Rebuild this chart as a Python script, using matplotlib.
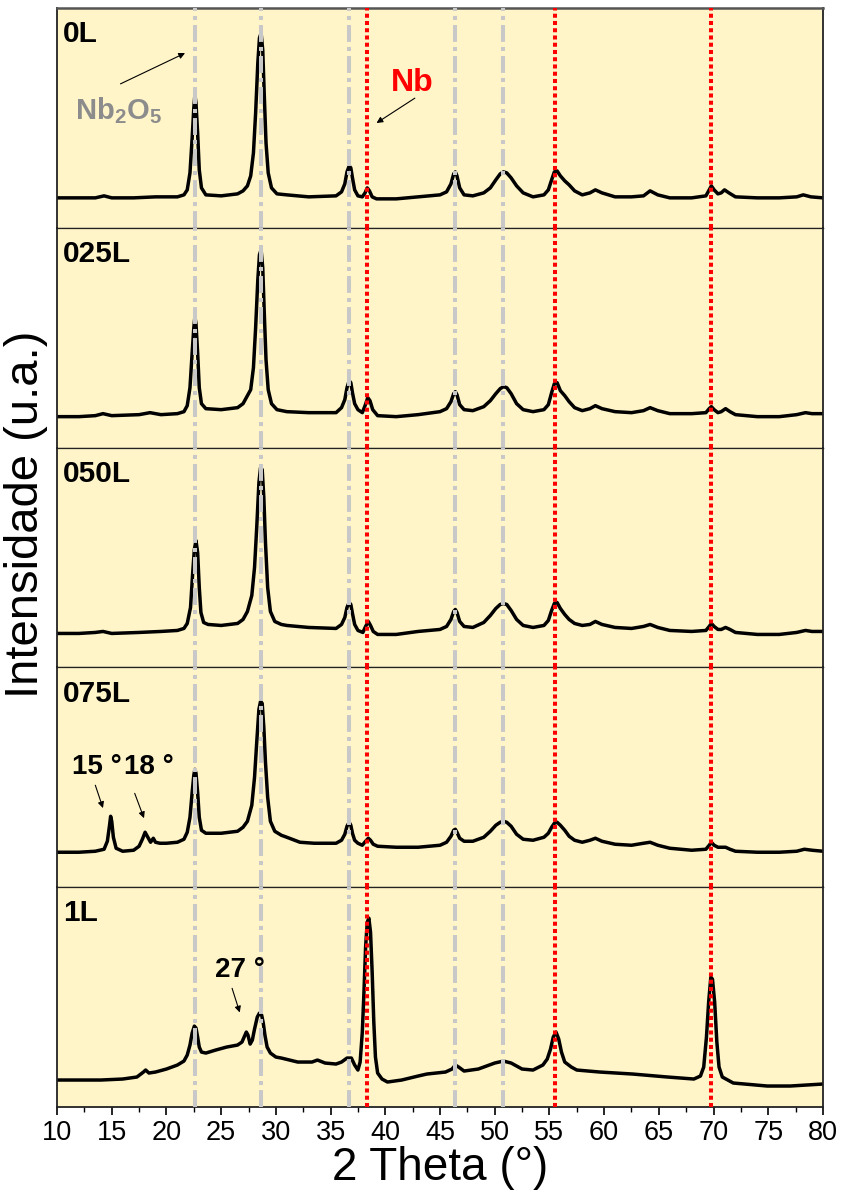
import numpy as np
import matplotlib
matplotlib.use("Agg")
import matplotlib.pyplot as plt
from matplotlib.ticker import MultipleLocator

plt.rcParams['font.family'] = ['Liberation Sans', 'DejaVu Sans']
plt.rcParams['mathtext.fontset'] = 'custom'
plt.rcParams['mathtext.rm'] = 'Liberation Sans'
plt.rcParams['mathtext.bf'] = 'Liberation Sans:bold'

# sample names (top to bottom)
samples = ["0L", "025L", "050L", "075L", "1L"]

# reference peak positions (2 theta, degrees)
nb2o5_peaks = [22.6, 28.65, 36.7, 46.4, 50.8]
nb_peaks = [38.3, 55.5, 69.8]

# diffractograms: (2 theta, intensity a.u.)
xrd_0L = [(10, 30), (12, 30), (13.5, 30), (14.3, 32), (15, 30), (17, 30), (19, 31), (21, 31), (21.6, 33),
          (21.9, 38), (22.15, 55), (22.35, 90), (22.5, 120), (22.6, 133), (22.7, 125), (22.85, 95),
          (23.0, 58), (23.2, 40), (23.6, 33), (25, 32), (26.5, 34), (27.0, 37), (27.4, 42), (27.7, 52),
          (27.95, 75), (28.15, 115), (28.35, 165), (28.5, 190), (28.65, 195), (28.8, 178), (28.95, 130),
          (29.1, 85), (29.3, 55), (29.6, 40), (30.1, 34), (31, 33), (33, 31), (35.5, 32), (36.0, 36),
          (36.3, 44), (36.5, 56), (36.7, 62), (36.85, 60), (37.0, 50), (37.2, 38), (37.5, 32), (37.9, 31),
          (38.15, 35), (38.35, 40), (38.55, 37), (38.8, 31), (39.2, 29), (41, 29), (43, 31), (45, 33),
          (45.6, 36), (46.0, 44), (46.25, 54), (46.4, 56), (46.55, 52), (46.8, 40), (47.2, 33), (48, 32),
          (49.0, 35), (49.6, 40), (50.1, 48), (50.5, 54), (50.8, 56), (51.1, 55), (51.5, 50), (52.0, 42),
          (52.6, 35), (53.5, 31), (54.5, 33), (54.9, 38), (55.2, 48), (55.45, 56), (55.7, 57), (56.0, 52),
          (56.4, 47), (56.8, 43), (57.3, 37), (58.0, 33), (58.7, 35), (59.2, 38), (59.8, 35), (61, 31),
          (62.5, 31), (63.6, 32), (64.2, 37), (64.9, 33), (66, 30), (68, 30), (69.3, 32), (69.6, 38),
          (69.8, 42), (70.05, 38), (70.4, 34), (70.7, 35), (71.0, 38), (71.4, 35), (72, 31), (74, 30),
          (76, 30), (77.6, 31), (78.2, 33), (78.9, 31), (80, 30)]

xrd_025L = [(10, 31), (12, 31), (13.5, 32), (14.2, 34), (15, 32), (17.5, 33), (18.5, 35), (19.5, 33), (21, 34),
            (21.6, 36), (21.9, 42), (22.15, 60), (22.35, 95), (22.5, 120), (22.6, 131), (22.7, 124),
            (22.85, 95), (23.0, 60), (23.2, 44), (23.6, 39), (25, 38), (26.5, 40), (27.0, 44), (27.4, 52),
            (27.7, 58), (27.95, 80), (28.15, 120), (28.35, 168), (28.5, 193), (28.65, 198), (28.8, 180),
            (28.95, 132), (29.1, 88), (29.3, 58), (29.6, 44), (30.1, 38), (31, 36), (33, 35), (35.5, 35),
            (36.0, 40), (36.3, 48), (36.5, 60), (36.7, 67), (36.85, 65), (37.0, 55), (37.2, 44), (37.5, 38),
            (37.9, 35), (38.15, 42), (38.4, 50), (38.6, 47), (38.85, 38), (39.3, 32), (41, 31), (43, 33),
            (45, 36), (45.6, 39), (46.0, 46), (46.25, 54), (46.4, 56), (46.55, 53), (46.8, 43), (47.2, 38),
            (48, 37), (49.0, 41), (49.6, 47), (50.1, 54), (50.5, 59), (50.8, 61), (51.1, 60), (51.5, 54),
            (52.0, 44), (52.6, 38), (53.5, 36), (54.5, 38), (54.9, 43), (55.2, 55), (55.45, 64), (55.7, 65),
            (56.0, 57), (56.4, 52), (56.8, 46), (57.3, 40), (58.0, 37), (58.7, 39), (59.2, 42), (59.8, 39),
            (61, 36), (62.5, 35), (63.6, 37), (64.2, 40), (64.9, 37), (66, 34), (68, 34), (69.3, 35),
            (69.6, 39), (69.8, 41), (70.05, 38), (70.4, 35), (70.7, 36), (71.1, 39), (71.5, 36), (72, 33),
            (74, 31), (76, 31), (77.6, 33), (78.4, 35), (79, 34), (80, 34)]

xrd_050L = [(10, 34), (12, 34), (13.5, 35), (14.2, 36), (15, 34), (17.5, 35), (19.5, 36), (21, 37), (21.6, 39),
            (21.9, 44), (22.2, 60), (22.4, 95), (22.55, 118), (22.7, 127), (22.85, 115), (23.0, 80),
            (23.15, 55), (23.4, 45), (23.8, 43), (25, 42), (26.5, 44), (27.0, 48), (27.4, 56), (27.8, 72),
            (28.05, 100), (28.25, 140), (28.45, 185), (28.6, 200), (28.75, 198), (28.9, 170), (29.05, 125),
            (29.25, 80), (29.5, 56), (29.9, 46), (30.5, 43), (31, 42), (33, 40), (35.5, 39), (36.0, 43),
            (36.3, 50), (36.5, 60), (36.7, 65), (36.85, 63), (37.0, 54), (37.2, 43), (37.5, 37), (37.95, 35),
            (38.2, 41), (38.45, 46), (38.65, 42), (38.9, 36), (39.3, 33), (41, 33), (43, 36), (45, 38),
            (45.6, 41), (46.0, 48), (46.25, 56), (46.4, 58), (46.55, 55), (46.8, 46), (47.2, 41), (48, 40),
            (49.0, 45), (49.6, 52), (50.1, 59), (50.5, 63), (50.8, 64), (51.1, 63), (51.5, 57), (52.0, 48),
            (52.6, 42), (53.5, 40), (54.5, 42), (54.9, 47), (55.2, 57), (55.45, 64), (55.7, 65), (56.0, 59),
            (56.4, 53), (56.8, 48), (57.3, 44), (58.0, 42), (58.7, 43), (59.2, 46), (59.8, 43), (61, 40),
            (62.5, 39), (63.6, 41), (64.2, 43), (64.9, 40), (66, 37), (68, 36), (69.3, 37), (69.6, 41),
            (69.8, 44), (70.05, 41), (70.4, 38), (70.7, 38), (71.1, 40), (71.5, 38), (72, 35), (74, 33),
            (76, 33), (77.6, 35), (78.4, 37), (79, 36), (80, 36)]

xrd_075L = [(10, 35), (12, 35), (13.5, 36), (14.3, 38), (14.6, 46), (14.8, 62), (14.9, 71), (15.0, 66),
            (15.15, 50), (15.4, 39), (16, 36), (17.0, 37), (17.5, 41), (17.8, 48), (18.05, 55), (18.3, 50),
            (18.55, 45), (18.8, 49), (19.0, 45), (19.4, 44), (20, 44), (21, 45), (21.6, 48), (21.9, 55),
            (22.15, 70), (22.35, 95), (22.5, 112), (22.6, 118), (22.7, 114), (22.85, 95), (23.0, 70),
            (23.2, 57), (23.6, 54), (25, 54), (26.5, 56), (27.0, 60), (27.4, 66), (27.8, 82), (28.05, 110),
            (28.25, 145), (28.45, 178), (28.6, 186), (28.75, 184), (28.9, 160), (29.05, 125), (29.25, 90),
            (29.5, 66), (29.9, 56), (30.5, 52), (31, 50), (32.2, 45), (33.5, 44), (35.5, 44), (36.0, 47),
            (36.3, 53), (36.5, 61), (36.7, 65), (36.85, 62), (37.0, 54), (37.2, 47), (37.5, 44), (37.9, 42),
            (38.2, 46), (38.45, 49), (38.65, 47), (38.9, 43), (39.3, 41), (41, 40), (43, 40), (45, 42),
            (45.6, 45), (46.0, 51), (46.25, 57), (46.4, 58), (46.55, 55), (46.8, 49), (47.2, 46), (48, 46),
            (49.0, 50), (49.6, 56), (50.1, 62), (50.5, 65), (50.8, 66), (51.1, 65), (51.5, 61), (52.0, 53),
            (52.6, 48), (53.5, 47), (54.5, 50), (54.9, 54), (55.2, 60), (55.45, 64), (55.7, 65), (56.0, 62),
            (56.4, 57), (56.8, 51), (57.3, 47), (58.0, 45), (58.7, 47), (59.2, 49), (59.8, 46), (61, 43),
            (62.5, 42), (63.6, 44), (64.2, 45), (64.9, 42), (66, 39), (68, 37), (69.3, 38), (69.6, 42),
            (69.8, 45), (70.05, 42), (70.4, 40), (70.7, 40), (71.1, 40), (71.5, 38), (72, 36), (74, 35),
            (76, 35), (77.6, 36), (78.3, 38), (79, 37), (80, 36)]

xrd_1L = [(10, 27), (12, 27), (14, 27), (16, 28), (17.3, 30), (17.9, 35), (18.1, 37), (18.4, 34), (19, 35),
          (20, 38), (21, 42), (21.6, 46), (21.9, 52), (22.15, 62), (22.35, 74), (22.55, 81), (22.7, 79),
          (22.85, 70), (23.0, 60), (23.2, 55), (23.6, 54), (24.5, 57), (25.5, 60), (26.5, 62), (26.9, 65),
          (27.1, 70), (27.3, 75), (27.45, 72), (27.65, 63), (27.85, 67), (28.05, 78), (28.3, 90), (28.5, 94),
          (28.7, 92), (28.85, 84), (29.0, 72), (29.2, 60), (29.5, 54), (30.0, 50), (30.5, 49), (32, 45),
          (33.3, 45), (33.8, 47), (34.5, 44), (35.5, 43), (36.0, 45), (36.5, 49), (36.9, 49), (37.2, 42),
          (37.5, 37), (37.7, 45), (37.9, 75), (38.05, 115), (38.2, 160), (38.35, 185), (38.5, 189),
          (38.65, 175), (38.8, 135), (38.95, 85), (39.1, 50), (39.3, 34), (39.7, 28), (40.2, 25), (41.5, 27),
          (43, 31), (43.8, 33), (45.5, 35), (46.1, 38), (46.4, 42), (46.7, 40), (47.2, 36), (48.5, 38),
          (50, 44), (50.8, 46), (51.5, 44), (52.5, 38), (53.5, 37), (54.4, 42), (54.8, 48), (55.1, 58),
          (55.35, 70), (55.6, 75), (55.85, 68), (56.1, 55), (56.4, 45), (57, 40), (57.5, 37), (59.6, 35),
          (62.6, 33), (65.8, 30), (68.2, 28), (68.8, 31), (69.1, 40), (69.35, 70), (69.55, 105), (69.75, 130),
          (69.9, 128), (70.1, 105), (70.3, 65), (70.5, 40), (70.8, 30), (71.8, 24), (74.9, 21), (77, 21),
          (80, 23)]

patterns = [xrd_0L, xrd_025L, xrd_050L, xrd_075L, xrd_1L]

bg = '#fff5c9'
gray = '#c8c8c8'

fig, axes = plt.subplots(5, 1, sharex=True, figsize=(8.46, 12), dpi=100)
fig.subplots_adjust(left=0.0674, right=0.9728, top=0.9933, bottom=0.0775, hspace=0)

for ax, name, pts in zip(axes, samples, patterns):
    xs, ys = zip(*pts)
    ax.set_facecolor(bg)
    ax.plot(xs, ys, color='black', lw=2.5, zorder=2, solid_joinstyle='round')
    for p in nb2o5_peaks:
        ax.axvline(p, color=gray, lw=2.9, ls=(0, (4.2, 1.25, 1.0, 1.25)), zorder=3)
    for p in nb_peaks:
        ax.axvline(p, color='#ff0000', lw=2.9, ls=(0, (1.0, 0.8)), zorder=4)
    ax.set_ylim(0, 220)
    ax.set_yticks([])
    ax.text(0.008, 0.945, name, transform=ax.transAxes, ha='left', va='top',
            fontsize=21.5, fontweight='bold')
    for s in ax.spines.values():
        s.set_linewidth(0.9)
        s.set_color('#222222')
    ax.tick_params(axis='x', which='both', bottom=False, top=False)

axes[0].spines['top'].set_linewidth(1.8)
axes[0].spines['top'].set_color('#555555')
for ax in axes:
    ax.spines['left'].set_linewidth(1.3)
    ax.spines['right'].set_linewidth(1.3)
axes[-1].spines['bottom'].set_linewidth(1.3)

ax = axes[-1]
ax.set_xlim(10, 80)
ax.xaxis.set_major_locator(MultipleLocator(5))
ax.xaxis.set_minor_locator(MultipleLocator(2.5))
ax.tick_params(axis='x', which='major', bottom=True, direction='out', length=6, width=1.2,
               labelsize=19.5, pad=3)
ax.tick_params(axis='x', which='minor', bottom=True, direction='out', length=3.5, width=1.0)
ax.set_xlabel('2 Theta (°)', fontsize=33, labelpad=0)

fig.text(0.031, 0.571, 'Intensidade (u.a.)', rotation=90, ha='center', va='center', fontsize=34)

arrow = dict(arrowstyle='-|>', lw=0.8, color='black', mutation_scale=9, shrinkA=0, shrinkB=0)

a0 = axes[0]
t0 = a0.get_xaxis_transform()
a0.text(15.6, 0.535, r'Nb$_\mathbf{2}$O$_\mathbf{5}$', transform=t0,
        ha='center', va='center', fontsize=21, fontweight='bold', color='#8c8c8c')
a0.annotate('', xy=(21.7, 0.795), xytext=(15.8, 0.655), xycoords=t0, textcoords=t0, arrowprops=arrow)
a0.text(42.5, 0.66, 'Nb', transform=t0, ha='center', va='center',
        fontsize=23, fontweight='bold', color='#ff0000')
a0.annotate('', xy=(39.2, 0.477), xytext=(42.7, 0.59), xycoords=t0, textcoords=t0, arrowprops=arrow)

a3 = axes[3]
t3 = a3.get_xaxis_transform()
a3.text(13.6, 0.545, '15 °', transform=t3, ha='center', va='center', fontsize=20, fontweight='bold')
a3.text(18.35, 0.545, '18 °', transform=t3, ha='center', va='center', fontsize=20, fontweight='bold')
a3.annotate('', xy=(14.2, 0.36), xytext=(13.5, 0.464), xycoords=t3, textcoords=t3, arrowprops=arrow)
a3.annotate('', xy=(17.95, 0.314), xytext=(17.1, 0.427), xycoords=t3, textcoords=t3, arrowprops=arrow)

a4 = axes[4]
t4 = a4.get_xaxis_transform()
a4.text(26.7, 0.623, '27 °', transform=t4, ha='center', va='center', fontsize=20, fontweight='bold')
a4.annotate('', xy=(26.7, 0.43), xytext=(26.0, 0.54), xycoords=t4, textcoords=t4, arrowprops=arrow)

fig.savefig('out.png', dpi=100, facecolor='white')
